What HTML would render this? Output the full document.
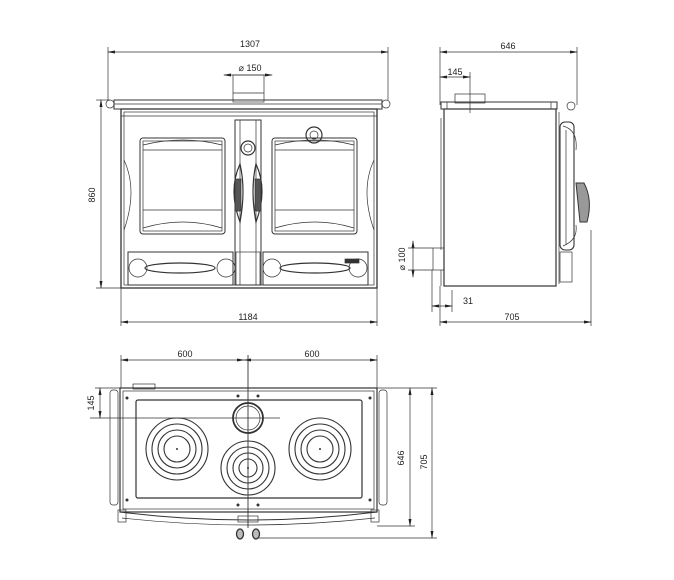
<!DOCTYPE html>
<html><head><meta charset="utf-8"><style>
html,body{margin:0;padding:0;background:#fff;}
svg{display:block}
text{font-family:"Liberation Sans",sans-serif;font-size:9px;fill:#222}
</style></head><body>
<svg width="674" height="580" viewBox="0 0 674 580" xmlns="http://www.w3.org/2000/svg">
<defs>
<marker id="a" markerWidth="8" markerHeight="6" refX="7" refY="3" orient="auto-start-reverse" markerUnits="userSpaceOnUse"><path d="M0,1.5 L8,3 L0,4.5Z" fill="#222"/></marker>
</defs>
<g fill="none" stroke="#333" stroke-width="0.7">
<!-- ===== FRONT VIEW ===== -->
<line x1="108" y1="52" x2="388" y2="52" marker-start="url(#a)" marker-end="url(#a)"/>
<line x1="108" y1="47" x2="108" y2="100"/><line x1="388" y1="47" x2="388" y2="100"/>
<line x1="224" y1="75" x2="272" y2="75" marker-start="url(#a)" marker-end="url(#a)"/>
<rect x="233" y="75" width="31" height="27"/>
<line x1="233" y1="93" x2="264" y2="93"/>
<rect x="114" y="100" width="268" height="9" stroke-width="1"/>
<line x1="114" y1="104" x2="382" y2="104"/>
<circle cx="110" cy="104" r="4"/><circle cx="386" cy="104" r="4"/>
<rect x="121" y="109" width="256" height="179" stroke-width="1.3"/>
<rect x="124" y="112" width="250" height="173"/>
<line x1="121" y1="116" x2="377" y2="116"/>
<rect x="140" y="138" width="85" height="96" rx="3" stroke-width="1"/>
<rect x="143" y="141" width="79" height="90"/>
<path d="M143,145 Q183,135 222,145" /><path d="M143,228 Q183,216 222,228"/>
<line x1="143" y1="150" x2="222" y2="150"/><line x1="143" y1="210" x2="222" y2="210"/>
<rect x="272" y="138" width="85" height="96" rx="3" stroke-width="1"/>
<rect x="275" y="141" width="79" height="90"/>
<path d="M275,145 Q315,135 354,145"/><path d="M275,228 Q315,216 354,228"/>
<line x1="275" y1="150" x2="354" y2="150"/><line x1="275" y1="210" x2="354" y2="210"/>
<circle cx="314" cy="135" r="8" stroke-width="1.2"/><circle cx="314" cy="135" r="4"/>
<rect x="235" y="120" width="26" height="165" stroke-width="1"/>
<line x1="240" y1="120" x2="240" y2="285"/><line x1="256" y1="120" x2="256" y2="285"/>
<circle cx="248" cy="148" r="7" stroke-width="1.2"/><circle cx="248" cy="148" r="4"/>
<path d="M240,164 Q228,190 240,222 Q246,190 240,164Z" stroke-width="1.2"/>
<path d="M256,164 Q268,190 256,222 Q250,190 256,164Z" stroke-width="1.2"/>
<rect x="235" y="179" width="6" height="32" fill="#555"/><rect x="255" y="179" width="6" height="32" fill="#555"/>
<path d="M124,160 Q138,190 124,230"/><path d="M374,160 Q360,190 374,230"/>
<rect x="128" y="252" width="105" height="33" stroke-width="1"/>
<rect x="263" y="252" width="105" height="33" stroke-width="1"/>
<rect x="236" y="252" width="24" height="33"/>
<ellipse cx="180" cy="268" rx="35" ry="5" stroke-width="1.2"/>
<ellipse cx="315" cy="268" rx="35" ry="5" stroke-width="1.2"/>
<circle cx="138" cy="268" r="9"/><circle cx="226" cy="268" r="9"/>
<circle cx="272" cy="268" r="9"/><circle cx="358" cy="268" r="9"/>
<rect x="345" y="259" width="14" height="4" fill="#333"/>
<line x1="101" y1="100" x2="101" y2="288" marker-start="url(#a)" marker-end="url(#a)"/>
<line x1="96" y1="100" x2="110" y2="100"/><line x1="96" y1="288" x2="121" y2="288"/>
<line x1="121" y1="288" x2="121" y2="326"/><line x1="377" y1="288" x2="377" y2="326"/>
<line x1="121" y1="322" x2="377" y2="322" marker-start="url(#a)" marker-end="url(#a)"/>

<!-- ===== SIDE VIEW ===== -->
<line x1="440" y1="52" x2="577" y2="52" marker-start="url(#a)" marker-end="url(#a)"/>
<line x1="440" y1="47" x2="440" y2="105"/><line x1="577" y1="47" x2="577" y2="105"/>
<line x1="440" y1="77" x2="470" y2="77" marker-start="url(#a)" marker-end="url(#a)"/>
<line x1="470" y1="72" x2="470" y2="113"/>
<rect x="455" y="94" width="30" height="9"/>
<rect x="441" y="102" width="116" height="7" stroke-width="1"/>
<rect x="441" y="102" width="6" height="7"/><rect x="551" y="102" width="6" height="7"/>
<circle cx="571" cy="106" r="4"/>
<rect x="444" y="109" width="112" height="177" stroke-width="1.2"/>
<line x1="441" y1="118" x2="441" y2="250"/><line x1="441" y1="270" x2="441" y2="286"/>
<line x1="556" y1="109" x2="556" y2="286"/><line x1="559" y1="112" x2="559" y2="284"/>
<rect x="560" y="122" width="14" height="128" rx="5" stroke-width="1.1"/>
<path d="M563,126 Q578,130 576,150"/><path d="M563,246 Q578,240 576,225"/>
<line x1="566" y1="130" x2="566" y2="245"/>
<path d="M576,183 L584,183 Q593,200 587,222 L580,222 Z" fill="#999" stroke-width="1"/>
<rect x="560" y="252" width="12" height="30"/>
<rect x="433" y="248" width="11" height="22"/>
<line x1="413" y1="241" x2="413" y2="277" marker-start="url(#a)" marker-end="url(#a)"/>
<line x1="408" y1="248" x2="433" y2="248"/><line x1="408" y1="270" x2="433" y2="270"/>
<line x1="432" y1="270" x2="432" y2="312"/><line x1="452" y1="290" x2="452" y2="312"/>
<line x1="432" y1="306" x2="452" y2="306" marker-start="url(#a)" marker-end="url(#a)"/>
<line x1="440" y1="286" x2="440" y2="326"/><line x1="591" y1="230" x2="591" y2="326"/>
<line x1="440" y1="322" x2="591" y2="322" marker-start="url(#a)" marker-end="url(#a)"/>

<!-- ===== TOP VIEW ===== -->
<line x1="121" y1="360" x2="244" y2="360" marker-start="url(#a)" marker-end="url(#a)"/>
<line x1="244" y1="360" x2="377" y2="360" marker-start="url(#a)" marker-end="url(#a)"/>
<line x1="121" y1="355" x2="121" y2="388"/><line x1="377" y1="355" x2="377" y2="388"/>
<line x1="248" y1="355" x2="248" y2="528" stroke-width="0.9"/>
<rect x="133" y="384" width="22" height="5"/>
<rect x="120" y="388" width="257" height="124" stroke-width="1.2"/>
<rect x="123" y="391" width="251" height="118"/>
<rect x="136" y="400" width="226" height="98" rx="2" stroke-width="1.2"/>
<rect x="110" y="390" width="8" height="115" rx="3"/><rect x="379" y="390" width="8" height="115" rx="3"/>
<circle cx="248" cy="418" r="15" stroke-width="1.8"/><circle cx="248" cy="418" r="12"/>
<line x1="90" y1="418" x2="280" y2="418"/>
<g stroke-width="1.1">
<circle cx="177" cy="449" r="31"/><circle cx="177" cy="449" r="25"/><circle cx="177" cy="449" r="19"/><circle cx="177" cy="449" r="13"/>
<circle cx="320" cy="449" r="31"/><circle cx="320" cy="449" r="25"/><circle cx="320" cy="449" r="19"/><circle cx="320" cy="449" r="13"/>
<circle cx="248" cy="468" r="27"/><circle cx="248" cy="468" r="21"/><circle cx="248" cy="468" r="15"/><circle cx="248" cy="468" r="9"/>
</g>
<path d="M120,512 Q248,528 377,512" stroke-width="1"/><path d="M122,518 Q248,532 375,518"/>
<rect x="118" y="510" width="8" height="12"/><rect x="371" y="510" width="8" height="12"/>
<rect x="238" y="516" width="20" height="6"/>
<ellipse cx="240" cy="534" rx="3.5" ry="5" stroke-width="1.3" fill="#bbb"/><ellipse cx="256" cy="534" rx="3.5" ry="5" stroke-width="1.3" fill="#bbb"/>
<line x1="100" y1="388" x2="100" y2="418" marker-start="url(#a)" marker-end="url(#a)"/>
<line x1="95" y1="388" x2="120" y2="388"/>
<line x1="377" y1="388" x2="437" y2="388"/><line x1="377" y1="526" x2="415" y2="526"/>
<line x1="258" y1="538" x2="437" y2="538"/>
<line x1="410" y1="388" x2="410" y2="526" marker-start="url(#a)" marker-end="url(#a)"/>
<line x1="432" y1="388" x2="432" y2="538" marker-start="url(#a)" marker-end="url(#a)"/>
</g>
<g fill="#333">
<circle cx="127" cy="398" r="1.5"/><circle cx="370" cy="398" r="1.5"/><circle cx="127" cy="500" r="1.5"/><circle cx="370" cy="500" r="1.5"/>
<circle cx="238" cy="396" r="1.5"/><circle cx="258" cy="396" r="1.5"/><circle cx="238" cy="505" r="1.5"/><circle cx="258" cy="505" r="1.5"/>
<circle cx="177" cy="449" r="1"/><circle cx="320" cy="449" r="1"/><circle cx="248" cy="468" r="1"/>
</g>
<text x="250" y="47" text-anchor="middle">1307</text>
<text x="250" y="71" text-anchor="middle">⌀ 150</text>
<text x="95" y="195" text-anchor="middle" transform="rotate(-90 95 195)">860</text>
<text x="248" y="320" text-anchor="middle">1184</text>
<text x="508" y="49" text-anchor="middle">646</text>
<text x="455" y="75" text-anchor="middle">145</text>
<text x="405" y="259" text-anchor="middle" transform="rotate(-90 405 259)">⌀ 100</text>
<text x="468" y="304" text-anchor="middle">31</text>
<text x="512" y="320" text-anchor="middle">705</text>
<text x="185" y="357" text-anchor="middle">600</text>
<text x="312" y="357" text-anchor="middle">600</text>
<text x="94" y="403" text-anchor="middle" transform="rotate(-90 94 403)">145</text>
<text x="404" y="458" text-anchor="middle" transform="rotate(-90 404 458)">646</text>
<text x="427" y="462" text-anchor="middle" transform="rotate(-90 427 462)">705</text>
</svg>
</body></html>
